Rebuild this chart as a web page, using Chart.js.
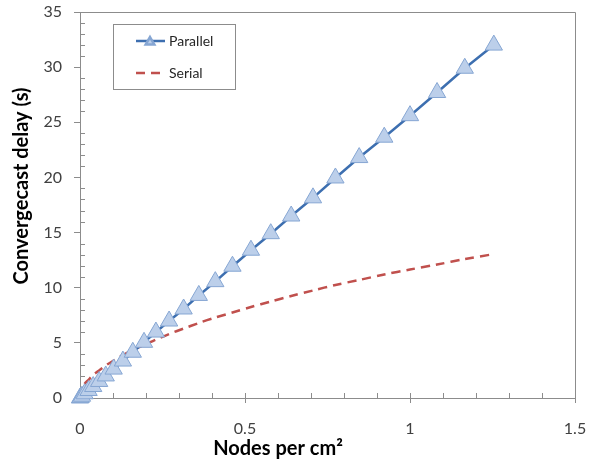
<!DOCTYPE html>
<html>
<head>
<meta charset="utf-8">
<script src="https://cdn.jsdelivr.net/npm/chart.js@4/dist/chart.umd.min.js"></script>
<style>
  html, body { margin: 0; padding: 0; background: #fff; }
  #wrap { width: 589px; height: 463px; position: relative; }
</style>
</head>
<body>
<div id="wrap"><canvas id="delay-chart"></canvas></div>
<script>
// values
const nodesPerCm2 = [0, 0.002, 0.006, 0.014, 0.026, 0.04, 0.058, 0.078, 0.102, 0.13,
  0.16, 0.194, 0.23, 0.27, 0.314, 0.36, 0.41, 0.462, 0.518, 0.578,
  0.64, 0.706, 0.774, 0.846, 0.922, 1.0, 1.082, 1.166, 1.254];
const parallelDelay = [0, 0.05, 0.16, 0.38, 0.68, 1.04, 1.5, 2.0, 2.62, 3.35,
  4.15, 5.05, 5.98, 6.98, 8.07, 9.3, 10.55, 11.95, 13.4, 14.9,
  16.5, 18.15, 19.95, 21.8, 23.65, 25.6, 27.7, 29.9, 32.0];
const serialDelay = [0, 0.45, 0.9, 1.3, 1.65, 2.1, 2.5, 2.95, 3.4, 3.9,
  4.35, 4.8, 5.3, 5.8, 6.3, 6.8, 7.3, 7.75, 8.25, 8.75,
  9.25, 9.75, 10.25, 10.7, 11.2, 11.65, 12.1, 12.6, 13.05];
const seriesLabels = ["Parallel", "Serial"];
const xTitle = "Nodes per cm\u00B2";
const yTitle = "Convergecast delay (s)";

const AXIS_COLOR = "#8c8c8c";
const FONT = "Lato, 'Open Sans', sans-serif";

function toPoints(xs, ys) {
  return xs.map((x, i) => ({ x, y: ys[i] }));
}

// keep label overflow from pushing the plot area in
function fixedFit(size) {
  return (s) => {
    if (s.isHorizontal()) s.height = size; else s.width = size;
    s.paddingTop = s.paddingBottom = s.paddingLeft = s.paddingRight = 0;
  };
}

// inner tick marks, top/right frame and axis titles, like the spreadsheet original
const frameAndTitles = {
  id: "frameAndTitles",
  beforeDatasetsDraw(chart) {
    const { ctx, chartArea: a, scales } = chart;
    ctx.save();
    ctx.strokeStyle = AXIS_COLOR;
    ctx.lineWidth = 1;
    ctx.beginPath();
    ctx.moveTo(a.left, a.top + 0.5);
    ctx.lineTo(a.right + 0.5, a.top + 0.5);
    ctx.lineTo(a.right + 0.5, a.bottom);
    for (let v = 1; v < 35; v++) {
      const y = Math.round(scales.y.getPixelForValue(v)) + 0.5;
      ctx.moveTo(a.left, y);
      ctx.lineTo(a.left + (v % 5 === 0 ? 0 : 5), y);
    }
    for (let k = 1; k < 15; k++) {
      const x = Math.round(scales.x.getPixelForValue(k / 10)) + 0.5;
      ctx.moveTo(x, a.bottom);
      ctx.lineTo(x, a.bottom - 5);
    }
    ctx.stroke();

    // both titles sit off-centre in the original
    ctx.fillStyle = "#000";
    ctx.font = "bold 20px " + FONT;
    ctx.textAlign = "center";
    ctx.textBaseline = "middle";
    ctx.fillText(xTitle, 278, 449);
    ctx.translate(22, 186);
    ctx.rotate(-Math.PI / 2);
    ctx.fillText(yTitle, 0, 0);
    ctx.restore();
  },
};

const legendBox = {
  id: "legendBox",
  afterDatasetsDraw(chart) {
    const ctx = chart.ctx;
    ctx.save();
    ctx.fillStyle = "#fff";
    ctx.fillRect(113.5, 24.5, 122, 65);
    ctx.strokeStyle = AXIS_COLOR;
    ctx.lineWidth = 1;
    ctx.strokeRect(113.5, 24.5, 122, 65);
    chart.data.datasets.forEach((ds, i) => {
      const y = 41 + i * 32;
      ctx.strokeStyle = ds.borderColor;
      ctx.lineWidth = ds.borderWidth;
      ctx.setLineDash(ds.borderDash || []);
      ctx.beginPath();
      ctx.moveTo(136, y);
      ctx.lineTo(i === 0 ? 165 : 160, y);
      ctx.stroke();
      ctx.setLineDash([]);
      if (ds.pointStyle === "triangle") {
        ctx.fillStyle = ds.pointBackgroundColor;
        ctx.strokeStyle = ds.pointBorderColor;
        Chart.helpers.drawPoint(ctx, { pointStyle: "triangle", radius: 5, borderWidth: 1, rotation: 0 }, 150, y + 1);
      }
      ctx.fillStyle = "#262626";
      ctx.font = "14px " + FONT;
      ctx.textAlign = "left";
      ctx.textBaseline = "middle";
      ctx.fillText(ds.label, 169, y);
    });
    ctx.restore();
  },
};

new Chart(document.getElementById("delay-chart"), {
  type: "line",
  data: {
    datasets: [
      {
        label: seriesLabels[0],
        data: toPoints(nodesPerCm2, parallelDelay),
        borderColor: "#3d6fb0",
        borderWidth: 2.5,
        pointStyle: "triangle",
        pointRadius: 10,
        pointBackgroundColor: "#bccfea",
        pointBorderColor: "#86a6d3",
        pointBorderWidth: 1,
        tension: 0,
        clip: false,
      },
      {
        label: seriesLabels[1],
        data: toPoints(nodesPerCm2, serialDelay),
        borderColor: "#c0504d",
        borderWidth: 2.5,
        borderDash: [9, 6],
        pointRadius: 0,
        tension: 0.3,
        clip: false,
      },
    ],
  },
  options: {
    responsive: true,
    maintainAspectRatio: false,
    animation: false,
    layout: { padding: { top: 12, right: 14, left: 0, bottom: 0 } },
    plugins: {
      legend: { display: false },
      tooltip: { enabled: false },
    },
    scales: {
      x: {
        type: "linear",
        min: 0,
        max: 1.5,
        afterFit: fixedFit(65),
        ticks: {
          stepSize: 0.5,
          color: "#404040",
          font: { family: FONT, size: 16 },
          padding: 16,
          callback: (v) => String(v),
        },
        grid: { drawOnChartArea: false, tickLength: 5, color: AXIS_COLOR },
        border: { color: AXIS_COLOR },
      },
      y: {
        min: 0,
        max: 35,
        afterFit: fixedFit(80),
        ticks: { stepSize: 5, color: "#404040", font: { family: FONT, size: 16 }, padding: 12 },
        grid: { drawOnChartArea: false, tickLength: 6, color: AXIS_COLOR },
        border: { color: AXIS_COLOR },
      },
    },
  },
  plugins: [frameAndTitles, legendBox],
});
</script>
</body>
</html>
